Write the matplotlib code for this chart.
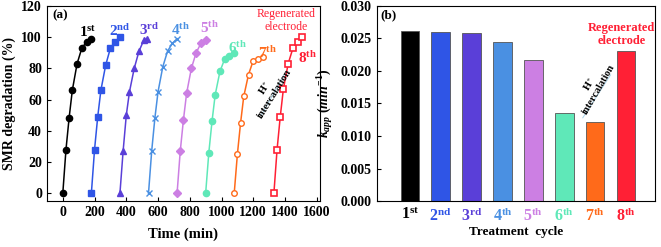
import numpy as np
import matplotlib
matplotlib.use("Agg")
import matplotlib.pyplot as plt

plt.rcParams['font.family'] = ['Liberation Serif', 'DejaVu Serif']
plt.rcParams['font.weight'] = 'bold'
plt.rcParams['axes.labelweight'] = 'bold'
plt.rcParams['mathtext.fontset'] = 'custom'
plt.rcParams['mathtext.rm'] = 'Liberation Serif:bold'
plt.rcParams['mathtext.bf'] = 'Liberation Serif:bold'
plt.rcParams['mathtext.it'] = 'Liberation Serif:bold:italic'

# panel (a): degradation curves
times = [
    [0, 20, 40, 60, 90, 120, 150, 180],
    [180, 200, 220, 240, 270, 300, 330, 360],
    [360, 380, 400, 420, 450, 480, 510, 530],
    [540, 560, 580, 600, 630, 660, 690, 720],
    [720, 740, 760, 780, 810, 840, 870, 900],
    [900, 920, 940, 960, 990, 1020, 1050, 1080],
    [1080, 1100, 1120, 1140, 1170, 1200, 1230, 1260],
    [1330, 1350, 1370, 1390, 1420, 1450, 1480, 1510],
]
degr = [
    [0, 28, 48.5, 66, 83, 93, 97, 99],
    [0, 28, 49, 66, 82, 93, 97, 100],
    [0, 27, 50, 65, 80, 91, 98, 99],
    [0, 27, 48, 65, 81, 91, 96, 99],
    [0, 27, 47, 64, 80, 90, 96, 98],
    [0, 26, 46, 63, 78, 86, 88, 90],
    [0, 25, 45, 62, 76, 85, 86, 87],
    [0, 28, 49, 67, 83, 93, 97, 100],
]
cycles = ['1', '2', '3', '4', '5', '6', '7', '8']
suffix = ['st', 'nd', 'rd', 'th', 'th', 'th', 'th', 'th']
label_xy = [(155, 100), (361, 101), (545, 101.5), (742, 101.5),
            (927, 102.5), (1103, 89.7), (1287, 86.5), (1543, 83.3)]

# panel (b): rate constants
kapp = [0.0262, 0.0260, 0.0259, 0.0245, 0.0217, 0.0135, 0.0122, 0.0230]

colors = ['#000000', '#2f55e6', '#5a3fd8', '#4a90e2', '#cc7fe3',
          '#5fe8b8', '#ff6a1a', '#ff2035']
markers = ['o', 's', '^', 'x', 'D', 'o', 'o', 's']

fig = plt.figure(figsize=(6.61, 2.47), dpi=100)
ax1 = fig.add_axes([0.071, 0.186, 0.413, 0.790])
ax2 = fig.add_axes([0.570, 0.186, 0.421, 0.790])

for i in range(8):
    kw = dict(color=colors[i], marker=markers[i], lw=1.1, ms=4.5)
    if markers[i] == 'D':
        kw['ms'] = 3.8
    if i == 6:
        kw.update(mfc='white', mew=1.0, ms=4)
    if i == 7:
        kw.update(mfc='white', mew=1.2, ms=4)
    ax1.plot(times[i], degr[i], **kw)
    lx, ly = label_xy[i]
    ax1.text(lx, ly, r'$\mathbf{%s^{%s}}$' % (cycles[i], suffix[i]),
             color=colors[i], fontsize=11, ha='center', va='baseline')

ax1.text(1407, 104.5, 'Regenerated\nelectrode', color=colors[7], fontsize=8.5,
         fontweight='normal', ha='center', va='baseline', linespacing=1.15)
ax1.text(1300, 66, 'H$^{+}$\nintercalation', fontsize=7.5, rotation=58,
         ha='center', va='center', linespacing=1.1)
ax1.plot([1250, 1396], [50, 76], color='#a9d4ea', lw=0.7)
ax1.text(-65, 114, '(a)', fontsize=9.5, va='center')

ax1.set_xlim(-100, 1620)
ax1.set_ylim(-5, 120)
ax1.set_xticks(np.arange(0, 1601, 200))
ax1.set_yticks(np.arange(0, 121, 20))
ax1.tick_params(direction='in', labelsize=10, length=3)
ax1.set_xlabel('Time (min)', fontsize=10.5, labelpad=6)
ax1.set_ylabel('SMR degradation (%)', fontsize=10)

x = np.arange(8)
ax2.bar(x, kapp, width=0.6, color=colors, edgecolor='#555555', linewidth=0.6)
ax2.set_xlim(-1.07, 7.94)
ax2.set_ylim(0, 0.030)
ax2.set_yticks(np.arange(0, 0.0301, 0.005))
ax2.set_yticklabels(['%.3f' % v for v in np.arange(0, 0.0301, 0.005)])
ax2.set_xticks(x)
ax2.set_xticklabels([r'$\mathbf{%s^{%s}}$' % (c, s) for c, s in zip(cycles, suffix)],
                    fontsize=11.5)
for t, c in zip(ax2.get_xticklabels(), colors):
    t.set_color(c)
ax2.tick_params(axis='x', length=0, pad=4)
ax2.tick_params(axis='y', direction='in', labelsize=10, length=3)
ax2.set_xlabel('Treatment  cycle', fontsize=9.5, labelpad=1)
ax2.set_ylabel(r'$k_{app}$ $(min^{-1})$', fontsize=10)
ax2.text(-0.95, 0.0285, '(b)', fontsize=9.5, va='center')
ax2.text(6.85, 0.0241, 'Regenerated\nelectrode', color=colors[7], fontsize=9,
         ha='center', va='baseline', linespacing=1.15)
ax2.text(5.95, 0.0176, 'H$^{+}$\nintercalation', fontsize=7.5, rotation=60,
         ha='center', va='center', linespacing=1.1)
ax2.plot([5.6, 6.5], [0.0128, 0.0194], color='#a9d4ea', lw=0.7)

for ax in (ax1, ax2):
    for t in ax.get_yticklabels() + ax.get_xticklabels():
        t.set_fontweight('bold')

fig.savefig('out.png', dpi=100)
